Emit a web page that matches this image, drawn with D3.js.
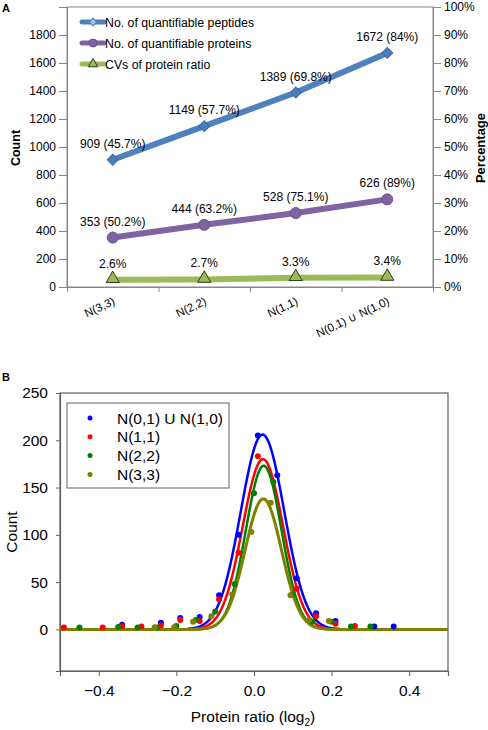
<!DOCTYPE html>
<html>
<head>
<meta charset="utf-8">
<script src="https://cdn.jsdelivr.net/npm/d3@7/dist/d3.min.js"></script>
<style>
  html, body { margin: 0; padding: 0; background: #fff; }
  svg { display: block; font-family: "Liberation Sans", Arial, sans-serif; }
</style>
</head>
<body>
<svg id="chart" width="488" height="730"></svg>
<script>
// ---------- Panel A data ----------
const categories = ["N(3,3)", "N(2,2)", "N(1,1)", "N(0,1) \u222A N(1,0)"];
const peptides = [909, 1149, 1389, 1672];
const peptidePct = ["45.7%", "57.7%", "69.8%", "84%"];
const proteins = [353, 444, 528, 626];
const proteinPct = ["50.2%", "63.2%", "75.1%", "89%"];
const cvs = [2.6, 2.7, 3.3, 3.4];
const countTicks = [0, 200, 400, 600, 800, 1000, 1200, 1400, 1600, 1800];
const pctTicks = [0, 10, 20, 30, 40, 50, 60, 70, 80, 90, 100];
const legendA = ["No. of quantifiable peptides", "No. of quantifiable proteins", "CVs of protein ratio"];

// ---------- Panel B data ----------
const seriesB = ["N(0,1) U N(1,0)", "N(1,1)", "N(2,2)", "N(3,3)"];
const colorsB = ["#0000ff", "#ff0000", "#008000", "#808000"];
const ratioBlue = [-0.34, -0.24, -0.19, -0.14, -0.09, -0.04, 0.01, 0.06, 0.11, 0.16, 0.21, 0.31, 0.36];
const countBlue = [5, 7, 12, 13, 36, 100, 205, 163, 54, 17, 9, 3, 3];
const ratioRed = [-0.49, -0.39, -0.34, -0.29, -0.24, -0.19, -0.14, -0.09, -0.04, 0.01, 0.11, 0.16, 0.21, 0.26];
const countRed = [2, 2, 3, 3, 4, 10, 9, 32, 81, 183, 43, 14, 6, 3.5];
const ratioGreen = [-0.45, -0.35, -0.30, -0.25, -0.20, -0.15, -0.10, -0.05, 0.0, 0.05, 0.10, 0.15, 0.20, 0.25, 0.30];
const countGreen = [2, 2.5, 2, 2, 3.5, 10, 19, 48, 144, 156, 37, 8, 8, 3, 3];
const ratioOlive = [-0.256, -0.206, -0.157, -0.11, -0.056, -0.007, 0.043, 0.094, 0.142, 0.193];
const countOlive = [2.4, 2.4, 8, 14, 37, 103, 134, 36, 10, 9];
// Gaussian fit parameters
const fitAmplitude = [206, 180, 173, 138];
const fitMean = [0.022, 0.023, 0.025, 0.024];
const fitSigma = [0.056, 0.052, 0.046, 0.047];
const fitFrom = [-0.17, -0.17, -0.17, -0.5];
const fitTo = [0.22, 0.22, 0.22, 0.5];
const xTicksB = [-0.4, -0.2, 0.0, 0.2, 0.4];
const yTicksB = [0, 50, 100, 150, 200, 250];

const svg = d3.select("#chart");
const FONT = "Liberation Sans, Arial, sans-serif";

// ================= PANEL A =================
const A = { left: 67, right: 433, top: 7, bottom: 287 };
const x = d3.scalePoint().domain(categories).range([A.left, A.right]).padding(0.5);
const yC = d3.scaleLinear().domain([0, 2000]).range([A.bottom, A.top]);
const yP = d3.scaleLinear().domain([0, 100]).range([A.bottom, A.top]);
const axisGray = "#868686";

const gA = svg.append("g");
// frame
gA.append("rect").attr("x", A.left).attr("y", A.top)
  .attr("width", A.right - A.left).attr("height", A.bottom - A.top)
  .attr("fill", "none").attr("stroke", axisGray).attr("stroke-width", 1);

// left axis
const leftAxis = gA.append("g").attr("transform", `translate(${A.left},0)`)
  .call(d3.axisLeft(yC).tickValues(countTicks).tickSize(8).tickPadding(3).tickFormat(d3.format("d")));
// right axis
const rightAxis = gA.append("g").attr("transform", `translate(${A.right},0)`)
  .call(d3.axisRight(yP).tickValues(pctTicks).tickSize(8).tickPadding(3).tickFormat(d => d + "%"));
// bottom axis: ticks at category boundaries
const step = x.step();
const boundaries = d3.range(categories.length + 1).map(i => A.left + i * step);
const bottomAxis = gA.append("g").attr("transform", `translate(0,${A.bottom})`)
  .call(d3.axisBottom(d3.scaleLinear().domain([A.left, A.right]).range([A.left, A.right]))
    .tickValues(boundaries).tickSize(5).tickFormat(""));
[leftAxis, rightAxis, bottomAxis].forEach(ax => {
  ax.select(".domain").attr("stroke", axisGray);
  ax.selectAll(".tick line").attr("stroke", axisGray);
  ax.selectAll("text").attr("font-family", FONT).attr("font-size", 12).attr("fill", "#000");
});

// category labels (rotated)
gA.append("g").selectAll("text").data(categories).join("text")
  .attr("transform", d => `translate(${x(d) + 3},${A.bottom + 17}) rotate(-25)`)
  .attr("text-anchor", "end")
  .attr("font-family", FONT).attr("font-size", 11.5).attr("fill", "#000")
  .text(d => d);

// axis titles
gA.append("text").attr("transform", `translate(20,148) rotate(-90)`)
  .attr("text-anchor", "middle").attr("font-family", FONT).attr("font-weight", "bold")
  .attr("font-size", 12.5).text("Count");
gA.append("text").attr("transform", `translate(485,148) rotate(-90)`)
  .attr("text-anchor", "middle").attr("font-family", FONT).attr("font-weight", "bold")
  .attr("font-size", 13).text("Percentage");

// series
const blueA = "#4f81bd", purpleA = "#8064a2", greenA = "#9bbb59";
const lineC = d3.line().x((d, i) => x(categories[i])).y(d => yC(d));
const lineP = d3.line().x((d, i) => x(categories[i])).y(d => yP(d));

gA.append("path").datum(peptides).attr("d", lineC).attr("fill", "none")
  .attr("stroke", blueA).attr("stroke-width", 6).attr("stroke-linejoin", "round");
gA.append("path").datum(proteins).attr("d", lineC).attr("fill", "none")
  .attr("stroke", purpleA).attr("stroke-width", 6).attr("stroke-linejoin", "round");
gA.append("path").datum(cvs).attr("d", lineP).attr("fill", "none")
  .attr("stroke", greenA).attr("stroke-width", 6).attr("stroke-linejoin", "round");

gA.append("g").selectAll("path").data(peptides).join("path")
  .attr("d", d3.symbol().type(d3.symbolSquare).size(60))
  .attr("transform", (d, i) => `translate(${x(categories[i])},${yC(d)}) rotate(45)`)
  .attr("fill", "#4a7ebb").attr("stroke", "#3a6aa6").attr("stroke-width", 1);
gA.append("g").selectAll("circle").data(proteins).join("circle")
  .attr("cx", (d, i) => x(categories[i])).attr("cy", d => yC(d)).attr("r", 5.5)
  .attr("fill", purpleA).attr("stroke", "#6d528f").attr("stroke-width", 1);
gA.append("g").selectAll("path").data(cvs).join("path")
  .attr("d", d3.symbol().type(d3.symbolTriangle).size(75))
  .attr("transform", (d, i) => `translate(${x(categories[i])},${yP(d) - 1})`)
  .attr("fill", greenA).attr("stroke", "#2f3a1a").attr("stroke-width", 1);

// point labels
const lbl = (data, yfun, textfun) => gA.append("g").selectAll("text").data(data).join("text")
  .attr("x", (d, i) => x(categories[i])).attr("y", d => yfun(d) - 12)
  .attr("text-anchor", "middle").attr("font-family", FONT).attr("font-size", 12).attr("fill", "#000")
  .text(textfun);
lbl(peptides, yC, (d, i) => `${d} (${peptidePct[i]})`);
lbl(proteins, yC, (d, i) => `${d} (${proteinPct[i]})`);
lbl(cvs, yP, d => d3.format(".1f")(d) + "%");

// legend A
const legA = gA.append("g");
const legColors = [blueA, purpleA, greenA];
legendA.forEach((t, i) => {
  const ly = 22 + i * 21;
  legA.append("line").attr("x1", 82).attr("x2", 104).attr("y1", ly).attr("y2", ly)
    .attr("stroke", legColors[i]).attr("stroke-width", 5).attr("stroke-linecap", "round");
  if (i === 0) {
    legA.append("path").attr("d", d3.symbol().type(d3.symbolSquare).size(28))
      .attr("transform", `translate(93,${ly}) rotate(45)`)
      .attr("fill", "#a9c3e3").attr("stroke", "#4a7ebb").attr("stroke-width", 1);
  } else if (i === 1) {
    legA.append("circle").attr("cx", 93).attr("cy", ly).attr("r", 4).attr("fill", purpleA)
      .attr("stroke", "#6d528f");
  } else {
    legA.append("path").attr("d", d3.symbol().type(d3.symbolTriangle).size(40))
      .attr("transform", `translate(93,${ly})`).attr("fill", greenA).attr("stroke", "#2f3a1a");
  }
  legA.append("text").attr("x", 105).attr("y", ly + 4.5)
    .attr("font-family", FONT).attr("font-size", 12.3).attr("fill", "#000").text(t);
});

// panel letters
svg.append("text").attr("x", 2).attr("y", 12).attr("font-family", FONT)
  .attr("font-weight", "bold").attr("font-size", 11).text("A");
svg.append("text").attr("x", 2).attr("y", 381).attr("font-family", FONT)
  .attr("font-weight", "bold").attr("font-size", 11).text("B");

// ================= PANEL B =================
const B = { left: 60, right: 448, top: 393, bottom: 671 };
const xB = d3.scaleLinear().domain([-0.5, 0.5]).range([B.left, B.right]);
const yB = d3.scaleLinear().domain([-44, 250]).range([B.bottom, B.top]);
const frameB = "#606060";
const gB = svg.append("g");

gB.append("rect").attr("x", B.left).attr("y", B.top)
  .attr("width", B.right - B.left).attr("height", B.bottom - B.top)
  .attr("fill", "none").attr("stroke", frameB).attr("stroke-width", 1.2);

const axL = gB.append("g").attr("transform", `translate(${B.left},0)`)
  .call(d3.axisLeft(yB).tickValues(yTicksB).tickSize(4).tickPadding(8).tickFormat(d3.format("d")));
const axB = gB.append("g").attr("transform", `translate(0,${B.bottom})`)
  .call(d3.axisBottom(xB).tickValues(xTicksB).tickSize(5).tickPadding(9).tickFormat(d3.format(".1f")));
[axL, axB].forEach(ax => {
  ax.select(".domain").attr("stroke", frameB).attr("stroke-width", 1.2);
  ax.selectAll(".tick line").attr("stroke", frameB);
  ax.selectAll("text").attr("font-family", FONT).attr("font-size", 15.5).attr("fill", "#000");
});

gB.append("text").attr("transform", `translate(17,532) rotate(-90)`)
  .attr("text-anchor", "middle").attr("font-family", FONT).attr("font-size", 15.5).text("Count");
const xt = gB.append("text").attr("x", 253).attr("y", 722)
  .attr("text-anchor", "middle").attr("font-family", FONT).attr("font-size", 15.5);
xt.append("tspan").text("Protein ratio (log");
xt.append("tspan").attr("font-size", 10).attr("dy", 4).text("2");
xt.append("tspan").attr("dy", -4).text(")");

// fitted curves
const lineB = d3.line().x(d => xB(d[0])).y(d => yB(d[1])).curve(d3.curveLinear);
seriesB.forEach((s, k) => {
  const pts = d3.range(fitFrom[k], fitTo[k] + 1e-9, 0.002).map(r =>
    [r, fitAmplitude[k] * Math.exp(-((r - fitMean[k]) ** 2) / (2 * fitSigma[k] ** 2))]);
  gB.append("path").datum(pts).attr("d", lineB).attr("fill", "none")
    .attr("stroke", colorsB[k]).attr("stroke-width", k === 3 ? 3 : 2.5);
});

// dots
const dotSets = [
  [ratioBlue, countBlue], [ratioRed, countRed], [ratioGreen, countGreen], [ratioOlive, countOlive]
];
dotSets.forEach(([rs, cs], k) => {
  gB.append("g").selectAll("circle").data(rs).join("circle")
    .attr("cx", d => xB(d)).attr("cy", (d, i) => yB(cs[i])).attr("r", 3)
    .attr("fill", colorsB[k]);
});

// legend B
const legB = gB.append("g");
legB.append("rect").attr("x", 67).attr("y", 403).attr("width", 162).attr("height", 85)
  .attr("fill", "#fff").attr("stroke", frameB).attr("stroke-width", 1);
seriesB.forEach((s, k) => {
  const ly = 418 + k * 18.8;
  legB.append("circle").attr("cx", 90).attr("cy", ly).attr("r", 2.5).attr("fill", colorsB[k]);
  legB.append("text").attr("x", 117).attr("y", ly + 5.5).attr("font-family", FONT)
    .attr("font-size", 15.5).attr("fill", "#000").text(s);
});
</script>
</body>
</html>
